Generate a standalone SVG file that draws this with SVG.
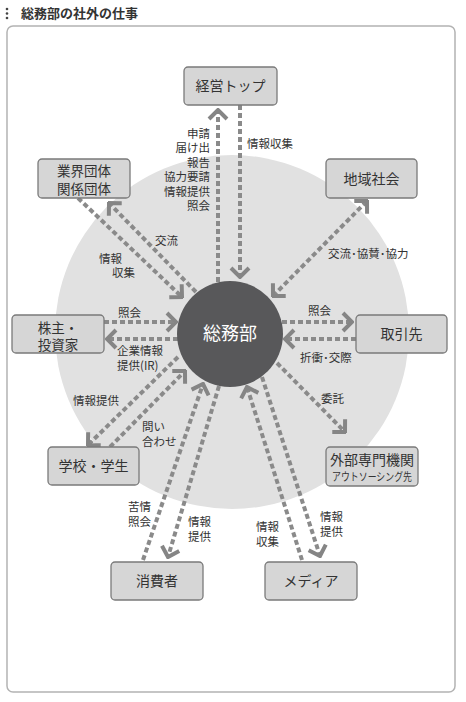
<svg xmlns="http://www.w3.org/2000/svg" width="466" height="702" viewBox="0 0 466 702">
<style>
text{font-family:"Noto Sans CJK JP","Noto Sans",sans-serif;fill:#333}
.node rect{fill:#d6d6d6;stroke:#7a7a7a;stroke-width:1.3}
.nt{font-size:14px;text-anchor:middle}
.n2{font-size:13.5px;text-anchor:middle}
.lb{font-size:11.5px}
.c line{stroke:#8a8a8a;stroke-width:4;stroke-dasharray:5 3;fill:none}
</style>
<defs>
<marker id="ah" markerUnits="userSpaceOnUse" viewBox="-14 -12 16 24" markerWidth="16" markerHeight="24" refX="0" refY="0" orient="auto-start-reverse">
<path d="M-9,-9 L0,0 L-9,9" fill="none" stroke="#858585" stroke-width="4"/>
</marker>
</defs>
<rect width="466" height="702" fill="#fff"/>
<g id="title">
<circle cx="7" cy="9" r="1.3" fill="#444"/><circle cx="7" cy="13.5" r="1.3" fill="#444"/><circle cx="7" cy="18" r="1.3" fill="#444"/>
<text x="21" y="18" font-size="13" font-weight="bold">総務部の社外の仕事</text>
</g>
<rect x="7" y="26" width="448" height="666" rx="6" fill="#fff" stroke="#b3b3b3" stroke-width="1.5"/>
<circle cx="232" cy="332" r="177" fill="#e1e1e1"/>
<g class="c" id="connectors">
<line x1="218" y1="282" x2="218" y2="110" marker-end="url(#ah)"/>
<line x1="240" y1="105" x2="240" y2="277" marker-end="url(#ah)"/>
<line x1="78" y1="198" x2="182" y2="297" marker-end="url(#ah)"/>
<line x1="196" y1="292" x2="109" y2="203" marker-end="url(#ah)"/>
<line x1="273" y1="296" x2="367" y2="201" marker-start="url(#ah)" marker-end="url(#ah)"/>
<line x1="104" y1="322" x2="176" y2="322" marker-end="url(#ah)"/>
<line x1="178" y1="339" x2="107" y2="339" marker-end="url(#ah)"/>
<line x1="282" y1="322" x2="352" y2="322" marker-end="url(#ah)"/>
<line x1="356" y1="339" x2="285" y2="339" marker-end="url(#ah)"/>
<line x1="178" y1="357" x2="88" y2="445" marker-end="url(#ah)"/>
<line x1="110" y1="447" x2="185" y2="371" marker-end="url(#ah)"/>
<line x1="143" y1="560" x2="203" y2="384" marker-end="url(#ah)"/>
<line x1="219" y1="386" x2="168" y2="557" marker-end="url(#ah)"/>
<line x1="302" y1="560" x2="247" y2="387" marker-end="url(#ah)"/>
<line x1="262" y1="377" x2="320" y2="556" marker-end="url(#ah)"/>
<line x1="277" y1="363" x2="345" y2="432" marker-end="url(#ah)"/>
</g>
<g id="center">
<circle cx="230" cy="334" r="53" fill="#58585a"/>
<text x="230" y="340" font-size="18" text-anchor="middle" style="fill:#fff">総務部</text>
</g>
<g id="top" class="node"><rect x="184" y="67" width="93" height="38" rx="4"/><text class="nt" x="230.5" y="91">経営トップ</text></g>
<g id="gyokai" class="node"><rect x="38" y="159" width="92" height="39" rx="4"/><text class="n2" x="84" y="176">業界団体</text><text class="n2" x="84" y="193.5">関係団体</text></g>
<g id="chiiki" class="node"><rect x="326" y="159" width="91" height="39" rx="4"/><text class="nt" x="371.5" y="184">地域社会</text></g>
<g id="kabunushi" class="node"><rect x="12" y="315" width="92" height="38" rx="4"/><text class="n2" x="58" y="332.5">株主・</text><text class="n2" x="58" y="350">投資家</text></g>
<g id="torihiki" class="node"><rect x="356" y="315" width="91" height="38" rx="4"/><text class="nt" x="401.5" y="339">取引先</text></g>
<g id="gakko" class="node"><rect x="48" y="447" width="91" height="38" rx="4"/><text class="nt" x="93.5" y="471">学校・学生</text></g>
<g id="gaibu" class="node"><rect x="326" y="447" width="92" height="39" rx="4"/><text class="nt" x="372" y="465" font-size="13">外部専門機関</text><text x="372" y="481" font-size="11" text-anchor="middle" textLength="80" lengthAdjust="spacingAndGlyphs">アウトソーシング先</text></g>
<g id="shohisha" class="node"><rect x="111" y="562" width="92" height="38" rx="4"/><text class="nt" x="157" y="586">消費者</text></g>
<g id="media" class="node"><rect x="265" y="562" width="92" height="38" rx="4"/><text class="nt" x="311" y="586">メディア</text></g>
<g id="labels" class="lb">
<g text-anchor="end">
<text x="210" y="137.5">申請</text>
<text x="210" y="152">届け出</text>
<text x="210" y="166.5">報告</text>
<text x="210" y="181">協力要請</text>
<text x="210" y="195.5">情報提供</text>
<text x="210" y="210">照会</text>
</g>
<text x="247" y="148">情報収集</text>
<text x="155" y="244.5">交流</text>
<text x="99" y="263">情報</text>
<text x="112" y="277">収集</text>
<text x="328" y="257.5">交流･協賛･協力</text>
<text x="118" y="316.5">照会</text>
<text x="117" y="355">企業情報</text>
<text x="117" y="369.5">提供(IR)</text>
<text x="308" y="315">照会</text>
<text x="300" y="362">折衝･交際</text>
<text x="321" y="403">委託</text>
<text x="73" y="405">情報提供</text>
<text x="142" y="431">問い</text>
<text x="142" y="445.5">合わせ</text>
<text x="128" y="511">苦情</text>
<text x="128" y="526">照会</text>
<text x="188" y="526">情報</text>
<text x="188" y="541">提供</text>
<text x="256" y="531">情報</text>
<text x="256" y="546">収集</text>
<text x="320" y="521">情報</text>
<text x="320" y="536">提供</text>
</g>
</svg>
